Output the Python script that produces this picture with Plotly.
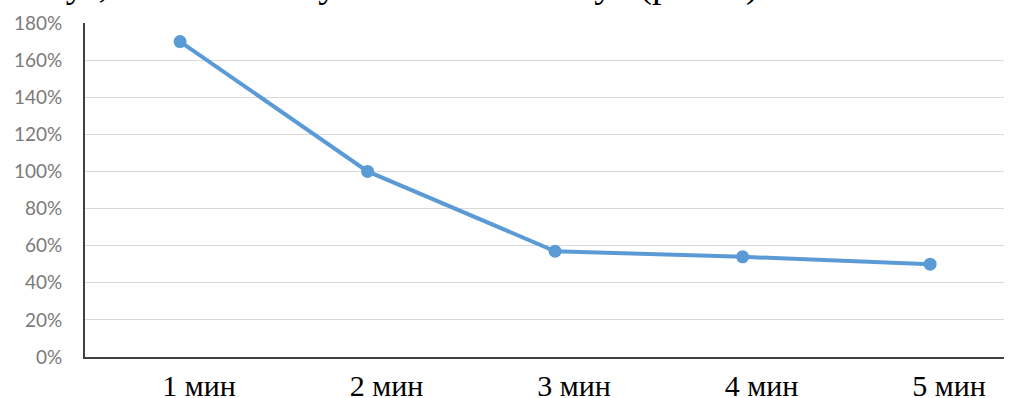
import plotly.graph_objects as go

categories = ["1 мин", "2 мин", "3 мин", "4 мин", "5 мин"]
values = [1.70, 1.00, 0.57, 0.54, 0.50]
y_ticks = [0, 0.2, 0.4, 0.6, 0.8, 1.0, 1.2, 1.4, 1.6, 1.8]
header_text = "минут, 90% – 7 минут и 95% – 8 минут (рис. 9)."

fig = go.Figure()
fig.add_trace(go.Scatter(
    x=categories, y=values, mode="lines+markers",
    line=dict(color="#5b9bd5", width=4),
    marker=dict(color="#5b9bd5", size=13),
    showlegend=False, hoverinfo="skip",
))

fig.add_annotation(
    text=header_text, xref="paper", yref="paper",
    x=0, y=1, xanchor="left", yanchor="bottom",
    xshift=-86, yshift=15,
    showarrow=False,
    font=dict(family="Liberation Serif", size=38, color="#000000"),
)

fig.update_layout(
    width=1012, height=398,
    margin=dict(l=85, r=8, t=23, b=41),
    paper_bgcolor="white", plot_bgcolor="white",
    xaxis=dict(
        type="category", range=[-0.507, 4.394], automargin=False,
        showgrid=False, showline=True, linecolor="#404040", linewidth=2,
        ticks="", tickfont=dict(family="Liberation Serif", size=30, color="#000000"),
        ticklabelshift=19, ticklabelstandoff=1,
    ),
    yaxis=dict(
        range=[0, 1.8], tickvals=y_ticks, tickformat=".0%", automargin=False,
        showgrid=True, gridcolor="#d9d9d9", gridwidth=1,
        showline=True, linecolor="#404040", linewidth=2,
        zeroline=False, ticks="",
        tickfont=dict(family="Lato", size=19, color="#7a7a7a"),
        ticklabelstandoff=17,
    ),
)

fig.write_html(
    "out.html",
    config={"displayModeBar": False},
    post_script="document.body.style.margin='0';document.body.style.overflow='hidden';",
)
